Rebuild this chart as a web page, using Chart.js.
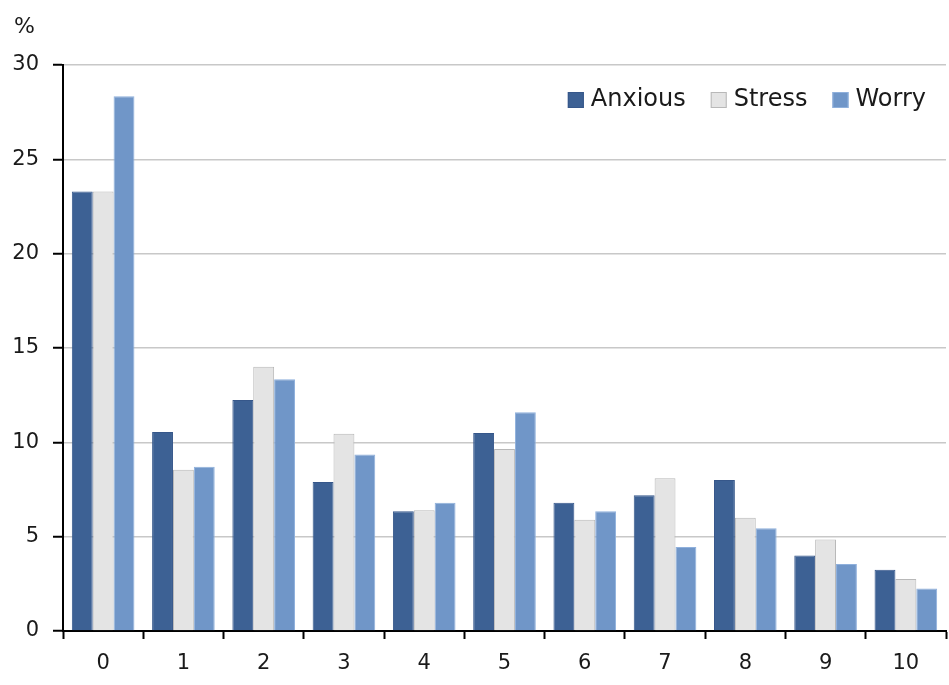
<!DOCTYPE html>
<html lang="en">
<head>
    <meta charset="UTF-8" />
    <title>Anxious / Stress / Worry</title>
    <script src="https://cdn.jsdelivr.net/npm/chart.js"></script>
    <style>
        html, body { margin: 0; padding: 0; background: #fff; }
        #wrap { width: 949px; height: 685px; }
    </style>
</head>
<body>
    <div id="wrap"><canvas id="chart" width="949" height="685"></canvas></div>
    <script>
        // data
        const categories = ['0', '1', '2', '3', '4', '5', '6', '7', '8', '9', '10'];
        const anxious = [23.3, 10.55, 12.25, 7.9, 6.35, 10.5, 6.8, 7.2, 8.0, 4.0, 3.25];
        const stress = [23.3, 8.55, 14.0, 10.45, 6.4, 9.65, 5.9, 8.1, 6.0, 4.85, 2.75];
        const worry = [28.35, 8.7, 13.35, 9.35, 6.8, 11.6, 6.35, 4.45, 5.45, 3.55, 2.25];
        const yTicks = [0, 5, 10, 15, 20, 25, 30];

        const font = 'DejaVu Sans';

        // "%" unit label + legend drawn inside the plot, top right
        const extras = {
            id: 'extras',
            afterDraw(chart) {
                const c = chart.ctx;
                c.save();
                c.font = '22px "' + font + '"';
                c.fillStyle = '#1a1a1a';
                c.textBaseline = 'middle';
                c.textAlign = 'left';
                c.fillText('%', 14, 27);

                // legend, right aligned
                c.font = '24px "' + font + '"';
                const box = 16, gapText = 7, gapItem = 25;
                const sets = chart.data.datasets;
                let total = 0;
                sets.forEach((ds, i) => {
                    total += box + gapText + c.measureText(ds.label).width;
                    if (i < sets.length - 1) total += gapItem;
                });
                let x = 926 - total;
                const y = 100;
                sets.forEach(ds => {
                    c.fillStyle = ds.backgroundColor;
                    c.fillRect(x, y - box / 2, box, box);
                    c.strokeStyle = ds.borderColor;
                    c.lineWidth = 1;
                    c.strokeRect(x + 0.5, y - box / 2 + 0.5, box - 1, box - 1);
                    x += box + gapText;
                    c.fillStyle = '#1a1a1a';
                    c.fillText(ds.label, x, y);
                    x += c.measureText(ds.label).width + gapItem;
                });
                c.restore();
            }
        };

        const ctx = document.getElementById('chart').getContext('2d');
        new Chart(ctx, {
            type: 'bar',
            data: {
                labels: categories,
                datasets: [
                    { label: 'Anxious', data: anxious, backgroundColor: '#3d6194', borderColor: '#36578a', borderWidth: 1 },
                    { label: 'Stress', data: stress, backgroundColor: '#e4e4e4', borderColor: '#b8b8b8', borderWidth: 1 },
                    { label: 'Worry', data: worry, backgroundColor: '#7096c8', borderColor: '#8fb0dc', borderWidth: 1 }
                ]
            },
            options: {
                responsive: false,
                animation: false,
                layout: { padding: { top: 65, right: 3, left: 0, bottom: 0 } },
                datasets: { bar: { categoryPercentage: 0.78, barPercentage: 1 } },
                plugins: {
                    legend: { display: false },
                    tooltip: { enabled: false }
                },
                scales: {
                    x: {
                        grid: { display: true, drawOnChartArea: false, offset: true, tickLength: 8, tickColor: '#000', tickWidth: 2 },
                        border: { color: '#000', width: 2 },
                        ticks: { font: { family: font, size: 21 }, color: '#1a1a1a', padding: 12 },
                        afterFit(scale) { scale.height = 54; }
                    },
                    y: {
                        min: 0,
                        max: 30,
                        afterBuildTicks(scale) { scale.ticks = yTicks.map(v => ({ value: v })); },
                        grid: { color: '#c8c8c8', lineWidth: 1.5, tickLength: 10, tickColor: '#000', tickWidth: 2 },
                        border: { color: '#000', width: 2 },
                        ticks: { font: { family: font, size: 21 }, color: '#1a1a1a', padding: 14 },
                        afterFit(scale) { scale.width = 63; }
                    }
                }
            },
            plugins: [extras]
        });
    </script>
</body>
</html>
